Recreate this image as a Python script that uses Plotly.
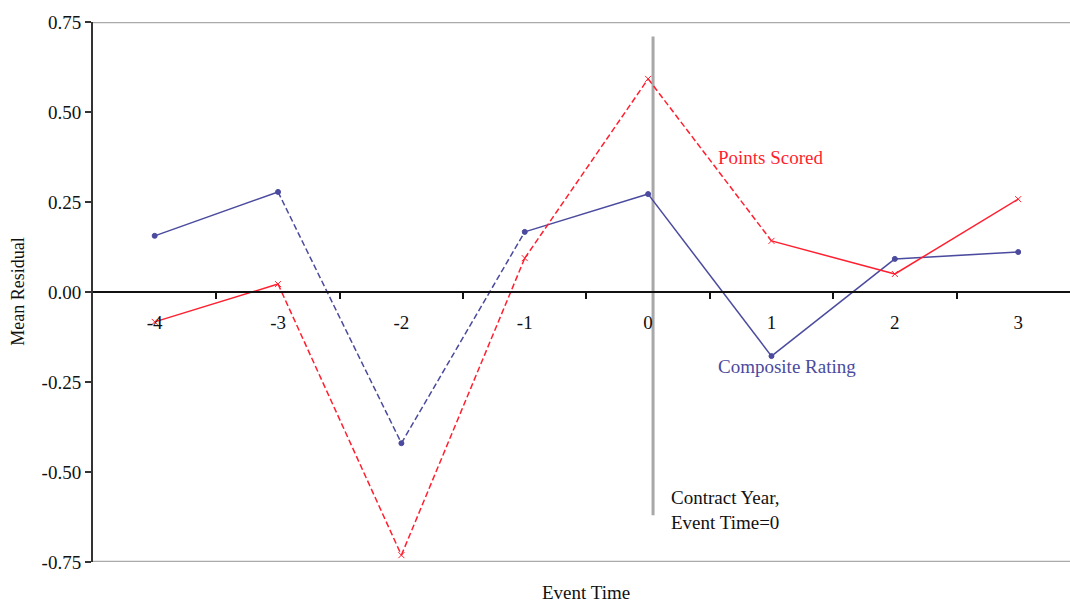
import plotly.graph_objects as go

# ---- data ----
event_time = [-4, -3, -2, -1, 0, 1, 2, 3]
tick_labels = ["-4", "-3", "-2", "-1", "0", "1", "2", "3"]
composite_rating = [0.156, 0.278, -0.420, 0.167, 0.272, -0.178, 0.092, 0.111]
points_scored = [-0.083, 0.022, -0.731, 0.094, 0.592, 0.142, 0.050, 0.258]
y_ticks = [-0.75, -0.50, -0.25, 0.00, 0.25, 0.50, 0.75]
y_tick_labels = ["-0.75", "-0.50", "-0.25", "0.00", "0.25", "0.50", "0.75"]
contract_year = 0.04

# segment line styles (solid/dashed) between consecutive event times
composite_dash = ["solid", "6px,3px", "6px,3px", "solid", "solid", "solid", "solid"]
points_dash = ["solid", "6px,3px", "6px,3px", "6px,3px", "6px,3px", "solid", "solid"]

BLUE = "#4a4a9e"
RED = "#ff1f2f"
FONT = "Liberation Serif"

fig = go.Figure()


def add_series(xs, ys, dashes, color, symbol, msize):
    for i in range(len(xs) - 1):
        fig.add_trace(go.Scatter(
            x=[xs[i], xs[i + 1]], y=[ys[i], ys[i + 1]], mode="lines",
            line=dict(color=color, width=1.5, dash=dashes[i]),
            showlegend=False, hoverinfo="skip"))
    fig.add_trace(go.Scatter(
        x=xs, y=ys, mode="markers",
        marker=dict(color=color, symbol=symbol, size=msize,
                    line=dict(color=color, width=1)),
        showlegend=False))


add_series(event_time, composite_rating, composite_dash, BLUE, "circle", 5)
add_series(event_time, points_scored, points_dash, RED, "x-thin", 6)

# plot border lines (top / bottom) and contract-year marker line
fig.add_shape(type="line", xref="paper", yref="y", x0=0, x1=1, y0=0.75, y1=0.75,
              line=dict(color="#aaaaaa", width=2.5))
fig.add_shape(type="line", xref="paper", yref="y", x0=0, x1=1, y0=-0.75, y1=-0.75,
              line=dict(color="#aaaaaa", width=2.5))
fig.add_shape(type="line", xref="x", yref="y", x0=contract_year, x1=contract_year,
              y0=-0.62, y1=0.71, line=dict(color="#a8a8a8", width=3), layer="below")

fig.add_annotation(x=0.55, y=0.375, xref="x", yref="y", text="Points Scored",
                   showarrow=False, xanchor="left", yanchor="middle",
                   font=dict(family=FONT, size=19, color=RED))
fig.add_annotation(x=0.55, y=-0.208, xref="x", yref="y", text="Composite Rating",
                   showarrow=False, xanchor="left", yanchor="middle",
                   font=dict(family=FONT, size=19, color=BLUE))
fig.add_annotation(x=0.17, y=-0.606, xref="x", yref="y",
                   text="Contract Year,<br>Event Time=0",
                   showarrow=False, xanchor="left", yanchor="middle", align="left",
                   font=dict(family=FONT, size=19, color="#111111"))
fig.add_annotation(x=0.505, y=-0.057, xref="paper", yref="paper", text="Event Time",
                   showarrow=False, xanchor="center", yanchor="middle",
                   font=dict(family=FONT, size=19, color="#111111"))
fig.add_annotation(x=-0.077, y=0.5, xref="paper", yref="paper", text="Mean Residual",
                   showarrow=False, textangle=-90, xanchor="center", yanchor="middle",
                   font=dict(family=FONT, size=18, color="#111111"))

fig.update_layout(
    width=1070, height=602,
    margin=dict(l=93, r=0, t=22, b=40),
    plot_bgcolor="white", paper_bgcolor="white",
    font=dict(family=FONT, size=19, color="#111111"),
    xaxis=dict(
        range=[-4.5, 3.42], anchor="free", position=0.5,
        showgrid=False, zeroline=False,
        showline=True, linecolor="#111111", linewidth=1.5,
        tickmode="array", tickvals=event_time, ticktext=tick_labels,
        ticks="outside", ticklen=13, tickcolor="rgba(0,0,0,0)",
        minor=dict(tickmode="array",
                   tickvals=[v + 0.5 for v in event_time[:-1]],
                   ticks="outside", ticklen=6, tickcolor="#111111", tickwidth=1.5,
                   showgrid=False),
    ),
    yaxis=dict(
        range=[-0.75, 0.75], showgrid=False, zeroline=False,
        showline=True, linecolor="#333333", linewidth=2,
        tickmode="array", tickvals=y_ticks, ticktext=y_tick_labels,
        ticks="outside", ticklen=6, tickcolor="#333333", tickwidth=1.5,
    ),
)

fig.write_html("out.html", config={"displayModeBar": False},
               post_script="document.body.style.margin='0';document.body.style.overflow='hidden';")
